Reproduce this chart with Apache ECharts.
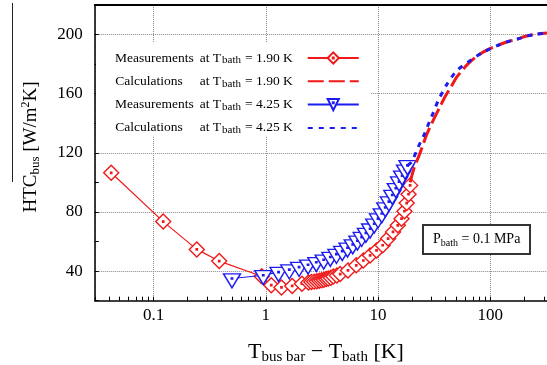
<!DOCTYPE html>
<html>
<head>
<meta charset="utf-8">
<script src="https://cdn.jsdelivr.net/npm/echarts@6/dist/echarts.min.js"></script>
<style>
  html, body { margin: 0; padding: 0; background: #fff; }
  #chart { width: 547px; height: 365px; }
</style>
</head>
<body>
<div id="chart"></div>
<script>
// Axis ticks
const xTickValues = [0.1, 1, 10, 100];
const xTickLabels = ['0.1', '1', '10', '100'];
const yTickLabels = [40, 80, 120, 160, 200];

// Measurements at T_bath = 1.90 K
const meas190X = [0.042, 0.122, 0.243, 0.385, 0.92, 1.12, 1.38, 1.72, 2.1, 2.4, 2.55, 2.7, 2.85, 3.0, 3.15, 3.3, 3.45, 3.6, 3.8, 4.0, 4.3, 4.6, 5.4, 6.4, 7.4, 8.5, 9.7, 11.0, 12.3, 13.6, 15.0, 16.2, 17.2, 18.0, 18.7, 19.3];
const meas190Y = [106.5, 73.5, 54.7, 46.8, 36.5, 30.5, 29.0, 30.0, 31.5, 32.3, 32.6, 32.9, 33.2, 33.5, 33.8, 34.2, 34.6, 35.0, 35.6, 36.3, 37.0, 38.0, 40.5, 43.9, 47.2, 50.6, 54.0, 57.5, 62.0, 66.5, 71.0, 75.5, 80.5, 86.0, 92.0, 98.0];

// Calculations at T_bath = 1.90 K
const calc190X = [19.3, 21, 23.6, 27, 31, 35, 39.4, 45, 50, 58, 66, 78, 93, 115, 140, 175, 210, 260, 320];
const calc190Y = [100, 110, 119.5, 132, 142, 150, 157.8, 165, 171, 177, 181.5, 186, 189.5, 192.5, 195, 197, 199, 200.3, 201];

// Measurements at T_bath = 4.25 K
const meas425X = [0.5, 0.95, 1.3, 1.62, 1.98, 2.38, 2.82, 3.28, 3.76, 4.26, 4.8, 5.35, 5.95, 6.55, 7.15, 7.8, 8.5, 9.25, 10.0, 10.8, 11.6, 12.5, 13.4, 14.4, 15.4, 16.4, 17.4, 18.3];
const meas425Y = [35, 37.2, 39.3, 41, 42.7, 44.3, 46, 47.7, 49.5, 51.5, 53.5, 55.8, 58, 60.5, 63, 65.8, 68.7, 72, 75.5, 79, 83, 87, 91.5, 96, 100.5, 104.5, 108.5, 111.5];

// Calculations at T_bath = 4.25 K
const calc425X = [18.3, 20, 22.8, 26, 29, 31, 34.4, 40.8, 50, 63.6, 86, 115, 140, 175, 210, 260, 320];
const calc425Y = [111.5, 114, 124, 133, 142, 147, 155.5, 166, 175.5, 181.5, 188, 192.5, 195, 197, 199, 200.3, 201];

const SERIF = 'Liberation Serif';
const RED = '#f01818';
const BLUE = '#1c1cf0';

function pairs(xs, ys) { return xs.map((x, i) => [x, ys[i]]); }

// log-spaced minor ticks 1..9 within every decade
const xMinorTicks = [];
for (let e = -2; e <= 2; e++) {
  for (let k = 1; k <= 9; k++) {
    const v = k * Math.pow(10, e);
    if (v >= 0.03 && v <= 320) xMinorTicks.push(+v.toPrecision(3));
  }
}

const legendText = {
  m190: '{a|Measurements}{t|at T}{s|bath}{e|= 1.90 K}',
  c190: '{b|Calculations}{t|at T}{s|bath}{e|= 1.90 K}',
  m425: '{a|Measurements}{t|at T}{s|bath}{e|= 4.25 K}',
  c425: '{b|Calculations}{t|at T}{s|bath}{e|= 4.25 K}'
};

const diamond = 'path://M8,0 L16,8 L8,16 L0,8 Z M7.3,7.3 L8.7,7.3 L8.7,8.7 L7.3,8.7 Z';
const triDown = 'path://M0,0 L18,0 L9,15 Z M8.3,4.3 L9.7,4.3 L9.7,5.7 L8.3,5.7 Z';
const hiddenSymbol = { color: 'rgba(0,0,0,0)', borderColor: 'rgba(0,0,0,0)', opacity: 0 };

const chart = echarts.init(document.getElementById('chart'), null, { renderer: 'canvas' });

function xLabel(v) {
  for (let i = 0; i < xTickValues.length; i++) {
    if (Math.abs(Math.log10(v) - Math.log10(xTickValues[i])) < 1e-6) return xTickLabels[i];
  }
  return '';
}

chart.setOption({
  animation: false,
  backgroundColor: '#fff',
  grid: { left: 94.8, right: 0, top: 5, bottom: 64.3 },
  xAxis: [{
    type: 'log', logBase: 10, min: 0.03, max: 320,
    axisLine: { show: true, onZero: false, lineStyle: { color: '#000', width: 1.5 } },
    axisTick: { show: true, inside: true, length: 4, customValues: xMinorTicks, lineStyle: { color: '#000', width: 1 } },
    axisLabel: { customValues: xTickValues, formatter: xLabel, fontFamily: SERIF, fontSize: 17, color: '#000', margin: 6 },
    splitLine: { show: false }
  }, {
    // top frame edge; its decade ticks carry the vertical grid lines
    type: 'log', logBase: 10, min: 0.03, max: 320, position: 'top',
    axisLine: { show: true, onZero: false, lineStyle: { color: '#000', width: 2 } },
    axisTick: { show: false }, axisLabel: { show: false },
    splitLine: { show: true, lineStyle: { type: 'dotted', color: '#8a8a8a', width: 1 } }
  }],
  yAxis: {
    type: 'value', min: 20, max: 220, interval: 20,
    axisLine: { show: true, lineStyle: { color: '#000', width: 1.5 } },
    axisTick: { show: true, inside: true, length: 4, lineStyle: { color: '#000' } },
    axisLabel: {
      formatter: v => (yTickLabels.indexOf(v) >= 0 ? String(v) : ''),
      fontFamily: SERIF, fontSize: 17, color: '#000', margin: 12
    },
    splitLine: { show: true, lineStyle: { type: 'dotted', color: ['rgba(0,0,0,0)', '#8a8a8a'], width: 1 } }
  },
  legend: {
    orient: 'vertical', left: 96, top: 43, align: 'right',
    data: [
      { name: 'm190' },
      { name: 'c190', itemStyle: hiddenSymbol },
      { name: 'm425' },
      { name: 'c425', itemStyle: hiddenSymbol }
    ],
    itemWidth: 51, itemHeight: 14, itemGap: 2.3,
    padding: [2, 11, 0, 19],
    backgroundColor: '#fff',
    formatter: name => legendText[name],
    textStyle: {
      fontFamily: SERIF, fontSize: 13.5, color: '#000',
      rich: {
        a: { fontFamily: SERIF, fontSize: 13.5, lineHeight: 16, padding: [0, 6, 0, 0] },
        b: { fontFamily: SERIF, fontSize: 13.5, lineHeight: 16, padding: [0, 17, 0, 0] },
        t: { fontFamily: SERIF, fontSize: 13.5, lineHeight: 16, padding: [0, 1, 0, 0] },
        s: { fontFamily: SERIF, fontSize: 11, lineHeight: 13, verticalAlign: 'bottom', padding: [10, 4, 0, 0] },
        e: { fontFamily: SERIF, fontSize: 13.5, lineHeight: 16, padding: [0, 10, 0, 0] }
      }
    }
  },
  title: {
    text: '{p|P}{s|bath}{p| = 0.1 MPa}',
    left: 423, top: 226,
    padding: [5, 10, 6, 10],
    borderColor: '#333', borderWidth: 2, backgroundColor: '#fff',
    textStyle: {
      fontFamily: SERIF, fontSize: 14, color: '#000', fontWeight: 'normal',
      rich: {
        p: { fontFamily: SERIF, fontSize: 14, lineHeight: 17, color: '#000' },
        s: { fontFamily: SERIF, fontSize: 10, lineHeight: 12, verticalAlign: 'bottom', padding: [8, 0, 0, 0], color: '#000' }
      }
    }
  },
  graphic: [
    {
      type: 'text', x: 326, y: 352,
      style: {
        text: '{m|T}{s|bus bar}{m| \u2212 T}{s|bath}{m| [K]}',
        align: 'center', verticalAlign: 'middle',
        rich: {
          m: { fontFamily: SERIF, fontSize: 22, lineHeight: 26, fill: '#000' },
          s: { fontFamily: SERIF, fontSize: 15, lineHeight: 18, fill: '#000', verticalAlign: 'bottom', padding: [16, 0, 0, 0] }
        }
      }
    },
    {
      type: 'text', x: 31, y: 147, rotation: Math.PI / 2,
      style: {
        text: '{m|HTC}{s|bus}{m| [W/m}{u|2}{m|K]}',
        align: 'center', verticalAlign: 'middle',
        rich: {
          m: { fontFamily: SERIF, fontSize: 19, lineHeight: 22, fill: '#000' },
          s: { fontFamily: SERIF, fontSize: 13, lineHeight: 16, fill: '#000', verticalAlign: 'bottom', padding: [10, 0, 0, 0] },
          u: { fontFamily: SERIF, fontSize: 12, lineHeight: 14, fill: '#000', verticalAlign: 'top', padding: [0, 0, 12, 0] }
        }
      }
    },
    {
      type: 'line', shape: { x1: 12.5, y1: 3, x2: 12.5, y2: 182 },
      style: { stroke: '#222', lineWidth: 1 }
    }
  ],
  series: [
    {
      name: 'm190', type: 'line', data: pairs(meas190X, meas190Y),
      symbol: diamond, symbolSize: 15,
      itemStyle: { color: '#fff', borderColor: RED, borderWidth: 1.4 },
      lineStyle: { color: RED, width: 1.2 }, z: 2
    },
    {
      name: 'c190', type: 'line', data: pairs(calc190X, calc190Y),
      symbol: 'none', smooth: 0.2,
      itemStyle: { color: RED },
      lineStyle: { color: RED, width: 3, type: [16, 5] }, z: 4
    },
    {
      name: 'm425', type: 'line', data: pairs(meas425X, meas425Y),
      symbol: triDown, symbolSize: [17, 14], symbolOffset: [0, 2.3],
      itemStyle: { color: '#fff', borderColor: BLUE, borderWidth: 1.4 },
      lineStyle: { color: BLUE, width: 1.2 }, z: 3
    },
    {
      name: 'c425', type: 'line', data: pairs(calc425X, calc425Y),
      symbol: 'none', smooth: 0.2,
      itemStyle: { color: BLUE },
      lineStyle: { color: BLUE, width: 3, type: [5, 6] }, z: 5
    }
  ]
});
</script>
</body>
</html>
